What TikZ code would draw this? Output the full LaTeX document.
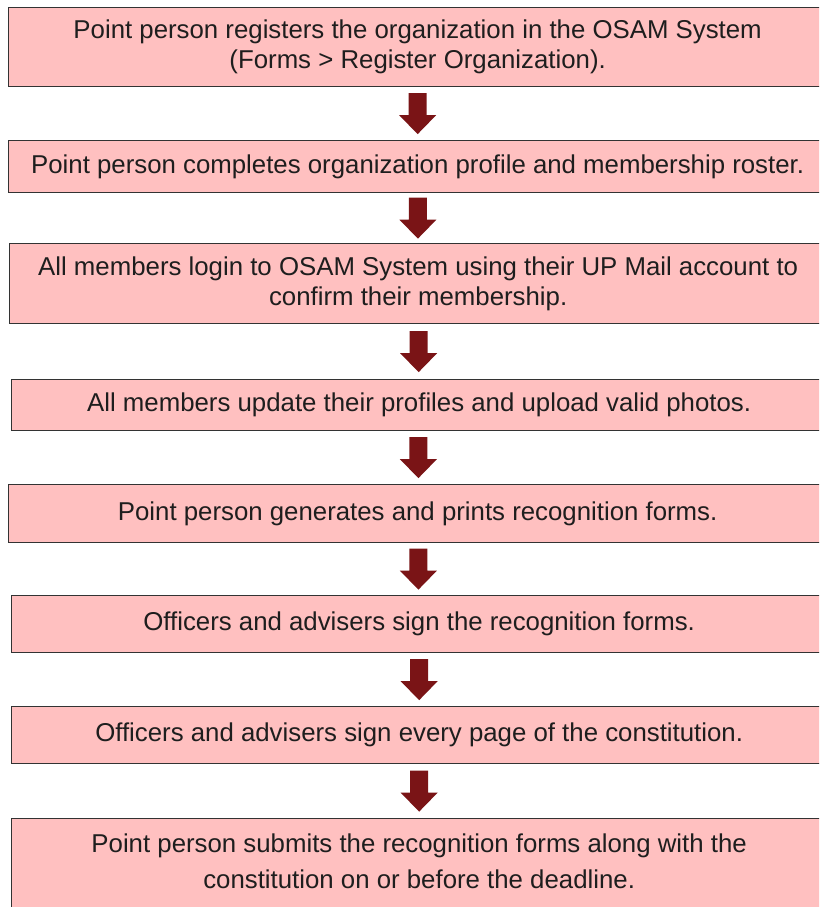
\documentclass[tikz,border=0pt]{standalone}
\usepackage{fontspec}
\setmainfont{Liberation Sans}
\usetikzlibrary{calc}
\definecolor{boxfill}{RGB}{255,192,192}
\definecolor{boxline}{RGB}{51,51,51}
\definecolor{arrowred}{RGB}{122,20,22}
\definecolor{txt}{RGB}{30,30,30}
\tikzset{
  stepbox/.style={draw=boxline, fill=boxfill, line width=1.3pt, anchor=north west,
    align=center, text=txt, inner sep=0pt, font=\fontsize{25.8}{30}\selectfont},
  steptext/.style={align=center, text=txt, inner sep=0pt, font=\fontsize{25.8}{36}\selectfont},
  blockarrow/.style={fill=arrowred}
}
\newcommand{\blockarr}[1]{\fill[blockarrow] ($(#1)+(-9,20.5)$) -- ($(#1)+(9,20.5)$) -- ($(#1)+(9,-1.5)$) -- ($(#1)+(18.5,-1.5)$) -- ($(#1)+(0,-20.5)$) -- ($(#1)+(-18.5,-1.5)$) -- ($(#1)+(-9,-1.5)$) -- cycle;}
\begin{document}
\begin{tikzpicture}[x=1pt,y=1pt]
\useasboundingbox (0,0) rectangle (819,-907);
\clip (0,0) rectangle (819,-907);
\fill[white] (0,0) rectangle (819,-907);
\node[stepbox, minimum width=818, minimum height=79] (b1) at (8,-7)
  {Point person registers the organization in the OSAM System\\(Forms > Register Organization).};
\node[stepbox, minimum width=818, minimum height=52] (b2) at (8,-140)
  {Point person completes organization profile and membership roster.};
\node[stepbox, minimum width=817, minimum height=80] (b3) at (9,-243)
  {All members login to OSAM System using their UP Mail account to\\confirm their membership.};
\node[stepbox, minimum width=815, minimum height=51] (b4) at (11,-379)
  {All members update their profiles and upload valid photos.};
\node[stepbox, minimum width=818, minimum height=58] (b5) at (8,-484)
  {Point person generates and prints recognition forms.};
\node[stepbox, minimum width=815, minimum height=57] (b6) at (11,-595)
  {Officers and advisers sign the recognition forms.};
\node[stepbox, minimum width=815, minimum height=57] (b7) at (11,-706)
  {Officers and advisers sign every page of the constitution.};
\node[stepbox, minimum width=815, minimum height=96] (b8) at (11,-818) {};
\node[steptext] (t8) at ([yshift=5.5pt]b8.center)
  {Point person submits the recognition forms along with the\\constitution on or before the deadline.};
\foreach \a/\b [count=\i] in {b1/b2,b2/b3,b3/b4,b4/b5,b5/b6,b6/b7,b7/b8}{
  \coordinate (m\i) at ($(\a.south)!0.5!(\b.north)$);
  \blockarr{m\i}
}
\end{tikzpicture}
\end{document}
